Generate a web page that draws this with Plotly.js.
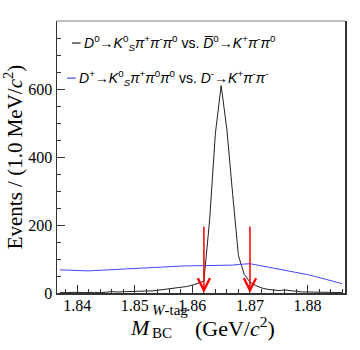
<!DOCTYPE html>
<html>
<head>
<meta charset="utf-8">
<script src="https://cdn.plot.ly/plotly-3.0.1.min.js"></script>
<style>
  html, body { margin: 0; padding: 0; background: #fff; }
  #chart { width: 360px; height: 350px; }
</style>
</head>
<body>
<div id="chart"></div>
<script>
// bin centres, 1 MeV bins from 1.8365 to 1.8865
var mbc = [];
for (var i = 0; i < 50; i++) mbc.push(+(1.837 + i * 0.001).toFixed(3));

// D0 -> KS pi+ pi- pi0 vs. D0bar -> K+ pi- pi0
var d0Events = [1, 2, 1, 2, 1, 2, 2, 1, 3, 4,
                3, 4, 5, 4, 5, 6, 6, 8, 9, 11,
                13, 15, 19, 23, 28, 35, 215, 470, 610, 480,
                290, 110, 55, 32, 22, 15, 11, 8, 7, 9,
                7, 4, 3, 3, 2, 3, 2, 2, 1, 1];

// D+ -> KS pi+ pi0 pi0 vs. D- -> K+ pi- pi-
var dpEvents = [68, 67, 66, 65, 65, 65, 66, 67, 68, 69,
                70, 71, 72, 72, 73, 74, 75, 76, 77, 78,
                79, 79, 80, 80, 80, 80, 80, 80, 80, 81,
                82, 84, 85, 86, 83, 80, 77, 74, 71, 67,
                64, 61, 57, 54, 50, 46, 42, 37, 32, 27];

// signal window
var cutLow = 1.862;
var cutHigh = 1.870;
var arrowTop = 200;

var legendText = [
  '<i>D</i><sup>0</sup>\u2192<i>K</i><sup>0</sup><sub><i>S</i></sub><i>\u03c0</i><sup>+</sup><i>\u03c0</i><sup>-</sup><i>\u03c0</i><sup>0</sup> vs. <i>D\u0305</i><sup>0</sup>\u2192<i>K</i><sup>+</sup><i>\u03c0</i><sup>-</sup><i>\u03c0</i><sup>0</sup>',
  '<i>D</i><sup>+</sup>\u2192<i>K</i><sup>0</sup><sub><i>S</i></sub><i>\u03c0</i><sup>+</sup><i>\u03c0</i><sup>0</sup><i>\u03c0</i><sup>0</sup> vs. <i>D</i><sup>-</sup>\u2192<i>K</i><sup>+</sup><i>\u03c0</i><sup>-</sup><i>\u03c0</i><sup>-</sup>'
];
var lineColors = ['#222222', '#4646ff'];

var serif = 'Liberation Serif';
var sans = 'Liberation Sans';

var traces = [
  { x: mbc, y: d0Events, type: 'scatter', mode: 'lines',
    line: { color: lineColors[0], width: 1 }, showlegend: false },
  { x: mbc, y: dpEvents, type: 'scatter', mode: 'lines',
    line: { color: lineColors[1], width: 1 }, showlegend: false }
];

var annotations = [];
var shapes = [];
[cutLow, cutHigh].forEach(function(c) {
  annotations.push({
    x: c, y: 0, ax: c, ay: arrowTop, xref: 'x', yref: 'y', axref: 'x', ayref: 'y',
    text: '', showarrow: true, arrowhead: 5, arrowsize: 1.6, arrowwidth: 1.5,
    arrowcolor: '#ff0000'
  });
});

// legend drawn by hand to get the short ROOT-style markers
var legY = [0.919, 0.79];
var legX = [0.052, 0.035];
legendText.forEach(function(t, k) {
  shapes.push({ type: 'line', xref: 'paper', yref: 'paper',
    x0: legX[k], x1: legX[k] + 0.03, y0: legY[k], y1: legY[k],
    line: { color: lineColors[k], width: 1.2 } });
  annotations.push({ xref: 'paper', yref: 'paper', x: legX[k] + 0.035, y: legY[k],
    xanchor: 'left', yanchor: 'middle', showarrow: false, text: t,
    font: { family: sans, size: 14, color: '#000' } });
});

// x title pieces, so that the super- and subscript of M stack like in ROOT
var xTitle = [
  { text: '<i>M</i>', x: 0.2465, y: -0.1250, size: 22 },
  { text: '<i>W</i>-tag', x: 0.3229, y: -0.0625, size: 15 },
  { text: 'BC', x: 0.3229, y: -0.1470, size: 15 },
  { text: '(GeV/<i>c</i><sup>2</sup>)', x: 0.4722, y: -0.1250, size: 22 }
];
xTitle.forEach(function(p) {
  annotations.push({ xref: 'paper', yref: 'paper', x: p.x, y: p.y,
    xanchor: 'left', yanchor: 'middle', showarrow: false, text: p.text,
    font: { family: serif, size: p.size, color: '#000' } });
});

// grey top frame line
shapes.push({ type: 'line', xref: 'paper', yref: 'paper', x0: 0, x1: 1, y0: 1, y1: 1,
  line: { color: '#aaaaaa', width: 1.5 } });

var layout = {
  width: 360, height: 350,
  margin: { l: 57, r: 15, t: 21, b: 57 },
  paper_bgcolor: '#fff', plot_bgcolor: '#fff',
  showlegend: false,
  font: { family: serif, size: 16, color: '#000' },
  xaxis: {
    range: [1.8365, 1.8865], tickvals: [1.84, 1.85, 1.86, 1.87, 1.88],
    ticktext: ['1.84', '1.85', '1.86', '1.87', '1.88'],
    ticks: 'inside', ticklen: 8, tickwidth: 1, tickcolor: '#333',
    minor: { dtick: 0.002, tick0: 1.84, ticks: 'inside', ticklen: 4, tickcolor: '#333' },
    showline: true, linecolor: '#333', linewidth: 1.5, mirror: false,
    showgrid: false, zeroline: false, ticklabelstandoff: -3,
    tickfont: { family: serif, size: 16, color: '#000' }
  },
  yaxis: {
    range: [0, 800], tickvals: [0, 200, 400, 600],
    ticks: 'inside', ticklen: 8, tickwidth: 1, tickcolor: '#333',
    minor: { dtick: 50, ticks: 'inside', ticklen: 4, tickcolor: '#333' },
    showline: true, linecolor: '#333', linewidth: 1.5, mirror: true,
    showgrid: false, zeroline: false,
    tickfont: { family: serif, size: 16, color: '#000' },
    title: { text: 'Events / (1.0 MeV/<i>c</i><sup>2</sup>)',
      font: { family: serif, size: 21, color: '#000' }, standoff: 6 }
  },
  shapes: shapes,
  annotations: annotations
};

Plotly.newPlot('chart', traces, layout, { displayModeBar: false, staticPlot: true });
</script>
</body>
</html>
